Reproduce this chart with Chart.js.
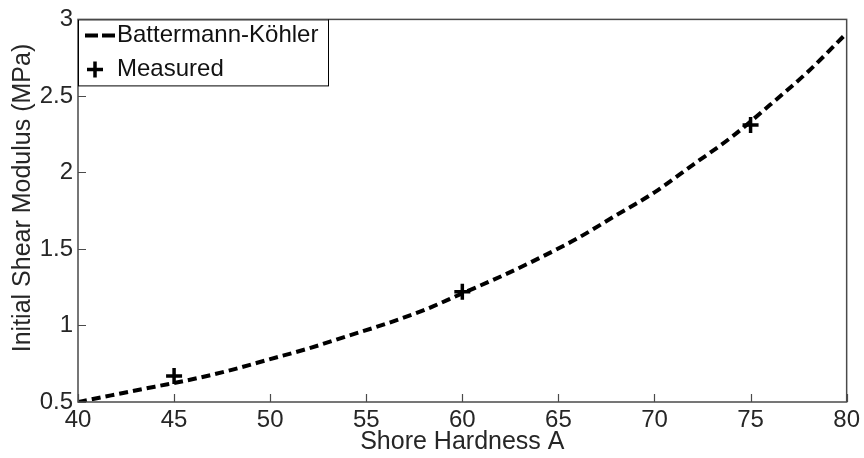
<!DOCTYPE html>
<html>
<head>
<meta charset="utf-8">
<script src="https://cdn.jsdelivr.net/npm/chart.js@4/dist/chart.umd.min.js"></script>
<style>
  html, body { margin: 0; padding: 0; background: #fff; }
  #wrap { width: 864px; height: 458px; }
</style>
</head>
<body>
<div id="wrap"><canvas id="c" width="864" height="458"></canvas></div>
<script>
// Shore hardness A (x) and initial shear modulus in MPa (y)
const curveHardness = [40, 42, 44, 46, 48, 50, 52, 54, 56, 58, 60, 62, 64, 66, 68, 70, 72, 74, 76, 78, 80];
const curveModulus  = [0.50, 0.55, 0.60, 0.65, 0.71, 0.78, 0.85, 0.93, 1.01, 1.10, 1.21, 1.32, 1.44, 1.57, 1.72, 1.87, 2.05, 2.23, 2.44, 2.66, 2.91];
const measuredHardness = [45, 60, 75];
const measuredModulus  = [0.67, 1.22, 2.31];
const xTicks = [40, 45, 50, 55, 60, 65, 70, 75, 80];
const yTicks = [0.5, 1, 1.5, 2, 2.5, 3];
const seriesNames = ['Battermann-Köhler', 'Measured'];
const xTitle = 'Shore Hardness A';
const yTitle = 'Initial Shear Modulus (MPa)';

const FONT = "'Liberation Sans', Arial, sans-serif";
const TEXT = '#262626';
const AXIS = '#4a4a4a';

// Box frame, inward tick marks, y-axis title and the legend box
const framePlugin = {
  id: 'frame',
  afterDatasetsDraw(chart) {
    const { ctx, chartArea: a, scales } = chart;
    ctx.save();
    ctx.strokeStyle = AXIS;
    ctx.lineWidth = 1.5;
    ctx.strokeRect(a.left, a.top, a.right - a.left, a.bottom - a.top);
    ctx.lineWidth = 1.2;
    ctx.beginPath();
    for (const v of xTicks) {
      const px = Math.round(scales.x.getPixelForValue(v)) + 0.5;
      ctx.moveTo(px, a.bottom); ctx.lineTo(px, a.bottom - 8);
    }
    for (const v of yTicks) {
      const py = Math.round(scales.y.getPixelForValue(v)) + 0.5;
      ctx.moveTo(a.left, py); ctx.lineTo(a.left + 8, py);
    }
    ctx.stroke();

    // y-axis title
    ctx.save();
    ctx.translate(23, 198);
    ctx.rotate(-Math.PI / 2);
    ctx.fillStyle = TEXT;
    ctx.font = '25px ' + FONT;
    ctx.textAlign = 'center';
    ctx.textBaseline = 'middle';
    ctx.fillText(yTitle, 0, 0);
    ctx.restore();

    // legend
    const lx = a.left, ly = a.top, lw = 250, lh = 66;
    ctx.fillStyle = '#fff';
    ctx.fillRect(lx, ly, lw, lh);
    ctx.strokeStyle = '#000';
    ctx.lineWidth = 1;
    ctx.strokeRect(lx + 0.5, ly + 0.5, lw, lh);

    const ds0 = chart.data.datasets[0];
    ctx.strokeStyle = ds0.borderColor;
    ctx.lineWidth = ds0.borderWidth;
    ctx.setLineDash([13, 4]);
    ctx.beginPath();
    ctx.moveTo(lx + 7, ly + 16); ctx.lineTo(lx + 37, ly + 16);
    ctx.stroke();
    ctx.setLineDash([]);

    const ds1 = chart.data.datasets[1];
    ctx.strokeStyle = ds1.borderColor;
    ctx.lineWidth = ds1.borderWidth;
    ctx.beginPath();
    const cx = lx + 17, cy = ly + 50, r = ds1.pointRadius;
    ctx.moveTo(cx - r, cy); ctx.lineTo(cx + r, cy);
    ctx.moveTo(cx, cy - r); ctx.lineTo(cx, cy + r);
    ctx.stroke();

    ctx.fillStyle = '#111';
    ctx.font = '24px ' + FONT;
    ctx.textBaseline = 'middle';
    ctx.textAlign = 'left';
    ctx.fillText(seriesNames[0], lx + 39, ly + 16);
    ctx.fillText(seriesNames[1], lx + 39, ly + 50);
    ctx.restore();
  }
};

new Chart(document.getElementById('c'), {
  type: 'line',
  data: {
    datasets: [
      {
        label: seriesNames[0],
        data: curveHardness.map((h, i) => ({ x: h, y: curveModulus[i] })),
        borderColor: '#000',
        borderWidth: 4,
        borderDash: [9, 5],
        pointRadius: 0,
        cubicInterpolationMode: 'monotone',
        fill: false
      },
      {
        label: seriesNames[1],
        data: measuredHardness.map((h, i) => ({ x: h, y: measuredModulus[i] })),
        showLine: false,
        pointStyle: 'cross',
        pointRadius: 8,
        borderColor: '#000',
        borderWidth: 3.5,
        backgroundColor: '#000'
      }
    ]
  },
  options: {
    responsive: false,
    animation: false,
    layout: { padding: { top: 17, right: 16, left: 0, bottom: 0 } },
    plugins: { legend: { display: false }, tooltip: { enabled: false } },
    scales: {
      x: {
        type: 'linear',
        min: 40, max: 80,
        afterBuildTicks: s => { s.ticks = xTicks.map(v => ({ value: v })); },
        afterFit: s => { s.height = 56; },
        grid: { display: false, drawTicks: false },
        border: { display: false },
        ticks: { font: { family: FONT, size: 24 }, color: TEXT, padding: 4, maxRotation: 0, autoSkip: false, callback: v => String(v) },
        title: { display: true, text: xTitle, font: { family: FONT, size: 25 }, color: TEXT, padding: { top: 0, bottom: 1 } }
      },
      y: {
        min: 0.5, max: 3,
        afterBuildTicks: s => { s.ticks = yTicks.map(v => ({ value: v })); },
        afterFit: s => { s.width = 78; },
        grid: { display: false, drawTicks: false },
        border: { display: false },
        ticks: { font: { family: FONT, size: 24 }, color: TEXT, padding: 5, autoSkip: false, callback: v => String(v) },
        title: { display: false }
      }
    }
  },
  plugins: [framePlugin]
});
</script>
</body>
</html>
